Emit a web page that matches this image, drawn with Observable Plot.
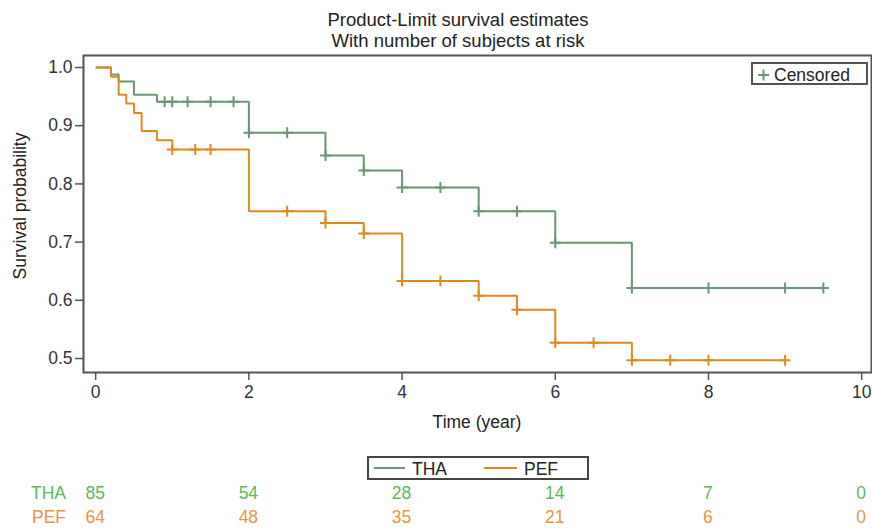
<!DOCTYPE html>
<html><head><meta charset="utf-8">
<script src="https://cdn.jsdelivr.net/npm/d3@7"></script>
<script src="https://cdn.jsdelivr.net/npm/@observablehq/plot@0.6"></script>
<style>
body{margin:0;background:#fff;font-family:"Liberation Sans",Arial,sans-serif;color:#333}
#wrap{position:relative;width:872px;height:529px;overflow:hidden;background:#fff}
.abs{position:absolute;white-space:nowrap;font-size:17.5px;line-height:20px}
#wrap svg{position:absolute;left:0;top:0}
</style></head><body><div id="wrap"></div>
<script>
// ---- data ----
const groups = ["THA", "PEF"];
const thaTimes = [0, 0.2, 0.3, 0.5, 0.8, 2.0, 3.0, 3.5, 4.0, 5.0, 6.0, 7.0, 9.5];
const thaSurv  = [1.0, 0.988, 0.976, 0.953, 0.941, 0.888, 0.849, 0.823, 0.794, 0.753, 0.699, 0.621, 0.621];
const thaCensor = [0.9, 1.0, 1.2, 1.5, 1.8, 2.0, 2.5, 3.0, 3.5, 4.0, 4.5, 5.0, 5.5, 6.0, 7.0, 8.0, 9.0, 9.5];
const pefTimes = [0, 0.2, 0.3, 0.4, 0.5, 0.6, 0.8, 1.0, 2.0, 3.0, 3.5, 4.0, 5.0, 5.5, 6.0, 7.0, 9.0];
const pefSurv  = [1.0, 0.984, 0.953, 0.938, 0.922, 0.891, 0.875, 0.859, 0.753, 0.733, 0.715, 0.633, 0.608, 0.584, 0.527, 0.497, 0.497];
const pefCensor = [1.0, 1.3, 1.5, 2.5, 3.0, 3.5, 4.0, 4.5, 5.0, 5.5, 6.0, 6.5, 7.0, 7.5, 8.0, 9.0];
const riskTimes = [0, 2, 4, 6, 8, 10];
const thaRisk = [85, 54, 28, 14, 7, 0];
const pefRisk = [64, 48, 35, 21, 6, 0];
const xTicks = [0, 2, 4, 6, 8, 10];
const yTicks = [0.5, 0.6, 0.7, 0.8, 0.9, 1.0];
const lineColors = ["#6a9673", "#df8a1f"];
const textColors = ["#5cb85c", "#e8953f"];
const titleLines = ["Product-Limit survival estimates", "With number of subjects at risk"];

// ---- build tables ----
function survAt(times, surv, t) {
  let s = surv[0];
  for (let i = 0; i < times.length; i++) if (times[i] <= t + 1e-9) s = surv[i];
  return s;
}
const steps = [], cens = [];
thaTimes.forEach((t, i) => steps.push({g: "THA", t, s: thaSurv[i]}));
pefTimes.forEach((t, i) => steps.push({g: "PEF", t, s: pefSurv[i]}));
thaCensor.forEach(t => cens.push({g: "THA", t, s: survAt(thaTimes, thaSurv, t)}));
pefCensor.forEach(t => cens.push({g: "PEF", t, s: survAt(pefTimes, pefSurv, t)}));

const plus = {draw(ctx, size) {
  const r = Math.sqrt(size / Math.PI);
  ctx.moveTo(-r, 0); ctx.lineTo(r, 0);
  ctx.moveTo(0, -r); ctx.lineTo(0, r);
}};

const axisCol = "#57534d";
const plot = Plot.plot({
  width: 872, height: 440,
  marginTop: 55, marginBottom: 68, marginLeft: 83, marginRight: 1,
  x: {domain: [-0.159, 10.128]},
  y: {domain: [0.476, 1.0206]},
  color: {domain: groups, range: lineColors},
  style: {fontFamily: "'Liberation Sans', Arial, sans-serif", fontSize: "17.5px", color: "#333", background: "transparent", overflow: "visible"},
  marks: [
    Plot.line(steps, {x: "t", y: "s", z: "g", stroke: "g", curve: "step-after", strokeWidth: 2, strokeLinejoin: "miter", strokeLinecap: "butt"}),
    Plot.dot(cens, {x: "t", y: "s", stroke: "g", fill: "none", symbol: plus, r: 5.5, strokeWidth: 2}),
    Plot.axisX({ticks: xTicks, tickSize: 8, tickPadding: 5, label: null, stroke: axisCol, fill: "#333", strokeWidth: 1.5, fontSize: 17.5}),
    Plot.axisY({ticks: yTicks, tickFormat: d3.format(".1f"), tickSize: 8, tickPadding: 3, label: null, stroke: axisCol, fill: "#333", strokeWidth: 1.5, fontSize: 17.5}),
    Plot.frame({stroke: axisCol, strokeWidth: 2})
  ]
});

const wrap = document.getElementById("wrap");
wrap.appendChild(plot);
const xs = plot.scale("x");

function addDiv(html, style) {
  const d = document.createElement("div");
  d.className = "abs";
  d.innerHTML = html;
  Object.assign(d.style, style);
  wrap.appendChild(d);
  return d;
}

// title
addDiv(titleLines.join("<br>"), {left: "458px", top: "9px", transform: "translateX(-50%)", textAlign: "center", fontSize: "18.5px", lineHeight: "21px", color: "#222"});
// axis labels
addDiv("Time (year)", {left: "477px", top: "412px", transform: "translateX(-50%)", color: "#222"});
addDiv("Survival probability", {left: "20px", top: "206px", transform: "translate(-50%,-50%) rotate(-90deg)", color: "#222"});

// censored legend
addDiv('<svg width="12" height="12" style="position:absolute;left:5px;top:5px"><path d="M0,6H11M5.5,0.5V11.5" stroke="' + lineColors[0] + '" stroke-width="2" fill="none"/></svg><span style="position:absolute;left:21px;top:1px">Censored</span>',
  {left: "751px", top: "62px", width: "113px", height: "19px", border: "2px solid #57534d", background: "#fff", color: "#222"});

// group legend
addDiv('<svg width="220" height="20" style="position:absolute;left:0;top:0">' +
  '<line x1="5" x2="36" y1="10" y2="10" stroke="' + lineColors[0] + '" stroke-width="2"/>' +
  '<line x1="115" x2="148" y1="10" y2="10" stroke="' + lineColors[1] + '" stroke-width="2"/></svg>' +
  '<span style="position:absolute;left:43px;top:1px">' + groups[0] + '</span>' +
  '<span style="position:absolute;left:155px;top:1px">' + groups[1] + '</span>',
  {left: "367px", top: "456px", width: "218px", height: "20px", border: "2px solid #444", color: "#222"});

// risk table
const rows = [thaRisk, pefRisk];
const rowTops = [483, 507];
rows.forEach((vals, r) => {
  addDiv(groups[r], {left: "66px", top: rowTops[r] + "px", transform: "translateX(-100%)", color: textColors[r]});
  vals.forEach((v, i) => {
    addDiv(String(v), {left: xs.apply(riskTimes[i]) + "px", top: rowTops[r] + "px", transform: "translateX(-50%)", color: textColors[r]});
  });
});
</script></body></html>
